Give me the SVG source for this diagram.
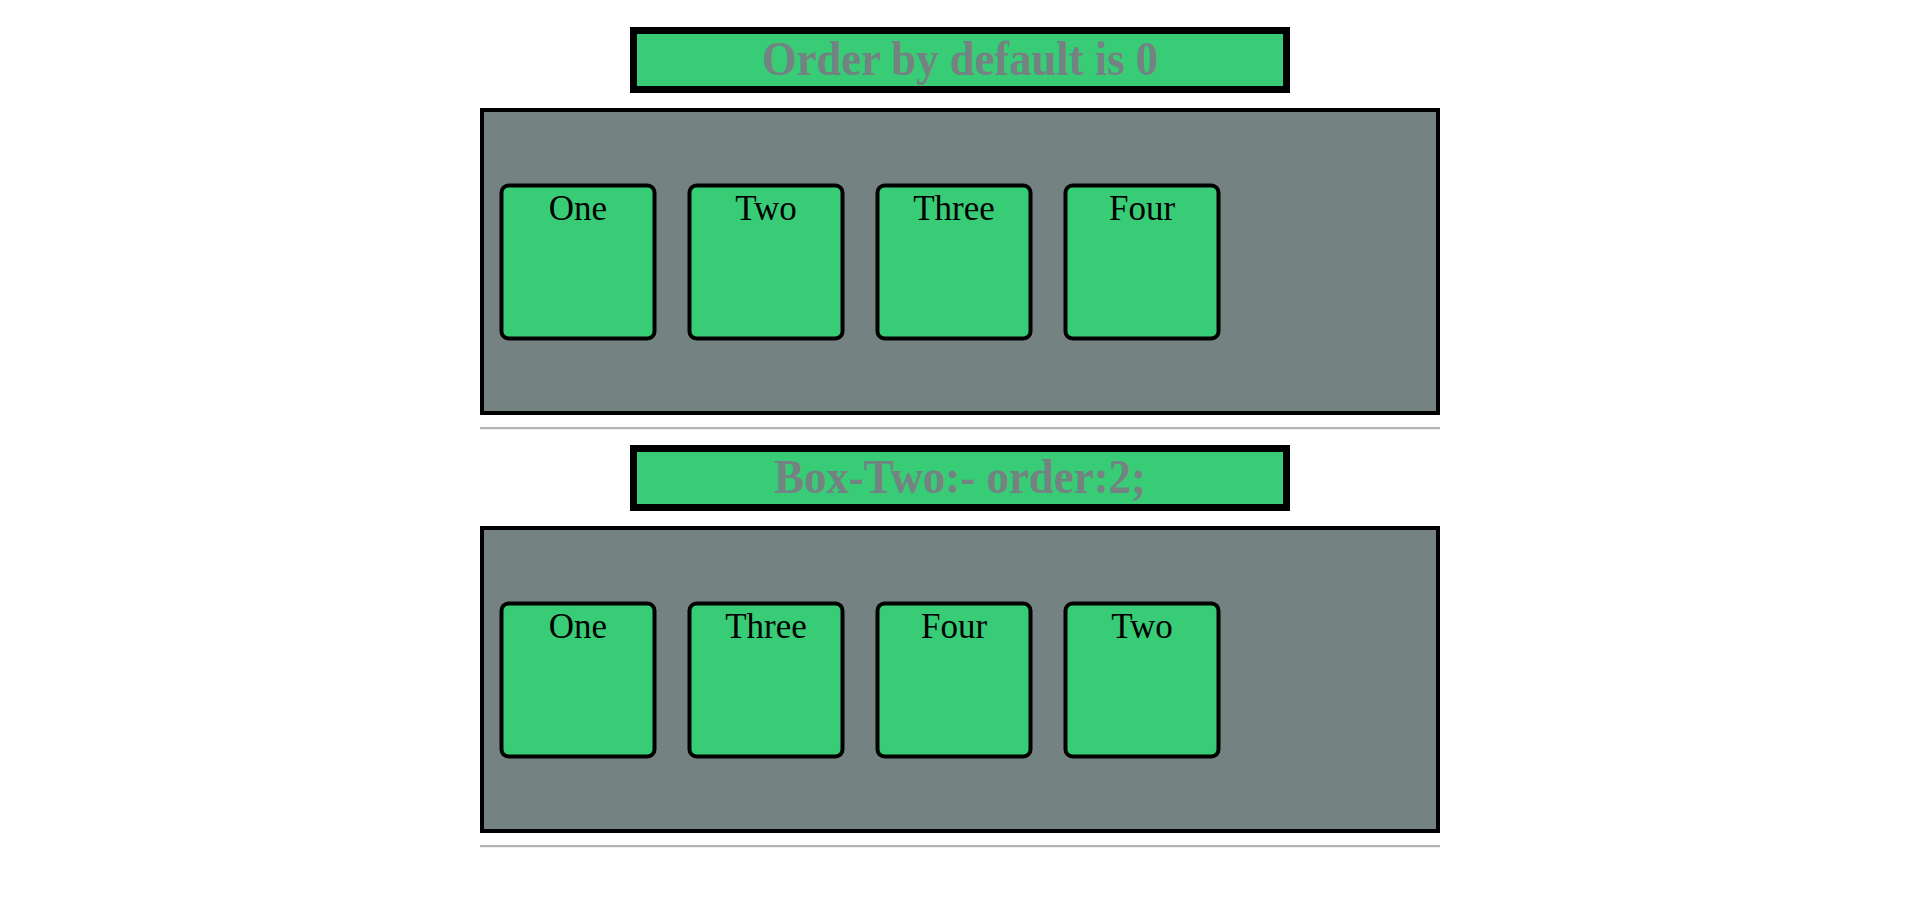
<svg xmlns="http://www.w3.org/2000/svg" width="1920" height="914" viewBox="0 0 1920 914">
<style>
.title-box{fill:#38cc77;stroke:#000;stroke-width:7}
.title-text{font-family:"Liberation Serif","Times New Roman",serif;font-weight:bold;font-size:48px;fill:#748282;text-anchor:middle}
.container{fill:#748282;stroke:#000;stroke-width:4}
.item{fill:#38cc77;stroke:#000;stroke-width:4}
.item-text{font-family:"Liberation Serif","Times New Roman",serif;font-size:35px;fill:#000;text-anchor:middle}
.hr-dark{stroke:#9a9a9a;stroke-width:1.5}
.hr-light{stroke:#eeeeee;stroke-width:1}
</style>
<rect width="1920" height="914" fill="#fff"/>

<g id="title1">
<rect class="title-box" x="633.5" y="30.5" width="653" height="59"/>
<text class="title-text" x="960" y="75" textLength="396" lengthAdjust="spacingAndGlyphs">Order by default is 0</text>
</g>
<g id="container1">
<rect class="container" x="482" y="110" width="956" height="303"/>
</g>
<g id="c1-one"><rect class="item" x="501.5" y="185.5" width="153" height="153" rx="7"/><text class="item-text" x="578" y="219.5">One</text></g>
<g id="c1-two"><rect class="item" x="689.5" y="185.5" width="153" height="153" rx="7"/><text class="item-text" x="766" y="219.5">Two</text></g>
<g id="c1-three"><rect class="item" x="877.5" y="185.5" width="153" height="153" rx="7"/><text class="item-text" x="954" y="219.5">Three</text></g>
<g id="c1-four"><rect class="item" x="1065.5" y="185.5" width="153" height="153" rx="7"/><text class="item-text" x="1142" y="219.5">Four</text></g>
<g id="hr1"><line class="hr-dark" x1="480" y1="428" x2="1440" y2="428"/><line class="hr-light" x1="480" y1="429.5" x2="1440" y2="429.5"/></g>

<g id="title2">
<rect class="title-box" x="633.5" y="448.5" width="653" height="59"/>
<text class="title-text" x="960" y="493" textLength="372" lengthAdjust="spacingAndGlyphs">Box-Two:- order:2;</text>
</g>
<g id="container2">
<rect class="container" x="482" y="528" width="956" height="303"/>
</g>
<g id="c2-one"><rect class="item" x="501.5" y="603.5" width="153" height="153" rx="7"/><text class="item-text" x="578" y="637.5">One</text></g>
<g id="c2-three"><rect class="item" x="689.5" y="603.5" width="153" height="153" rx="7"/><text class="item-text" x="766" y="637.5">Three</text></g>
<g id="c2-four"><rect class="item" x="877.5" y="603.5" width="153" height="153" rx="7"/><text class="item-text" x="954" y="637.5">Four</text></g>
<g id="c2-two"><rect class="item" x="1065.5" y="603.5" width="153" height="153" rx="7"/><text class="item-text" x="1142" y="637.5">Two</text></g>
<g id="hr2"><line class="hr-dark" x1="480" y1="846" x2="1440" y2="846"/><line class="hr-light" x1="480" y1="847.5" x2="1440" y2="847.5"/></g>
<g id="connectors"/>
</svg>
